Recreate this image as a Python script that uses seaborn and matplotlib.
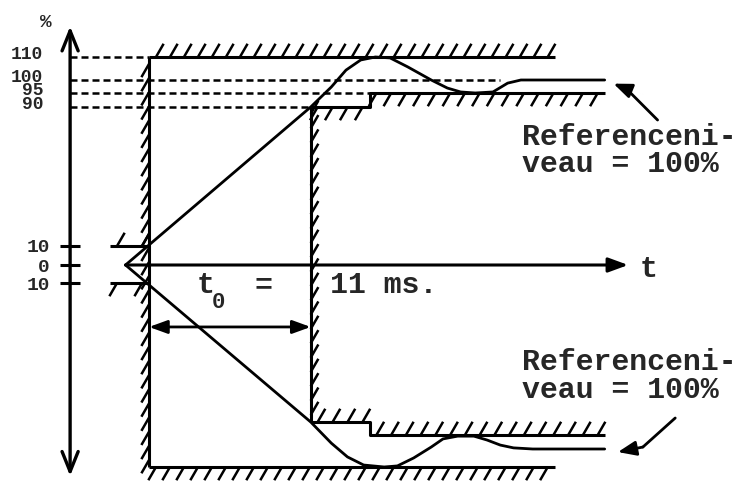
import numpy as np
import matplotlib.pyplot as plt
import matplotlib.patheffects as pe
import seaborn as sns

# levels on the % axis
tick_levels = [-10, 0, 10]
tick_labels = ["10", "0", "10"]
band_levels = [110, 100, 95, 90]
band_labels = ["110", "100", "95", "90"]
band_dash_end = [0, 23.9, 15, 11]      # ms, where each dashed guide stops

# timing in ms
t_axis = -5.37
t_start = -1.6
t_pre = -2.65
t0 = 11
t_step = 15
t_outer_end = 27.6
t_end = 31
t_arrow_end = 32.6

# tolerance envelope in %
outer = 110
inner = 95
step = 90
pre = 10

# step responses
up_t = [-1.6, 11.0, 12.4, 13.4, 14.4, 15.4, 16.4, 17.6, 19.2, 20.3, 21.2, 22.2, 23.4, 24.4, 25.3, 31.0]
up_pct = [0, 90, 97.3, 104.3, 108.7, 110, 109.6, 105.7, 100, 96.9, 95.4, 95, 95.4, 98.8, 100, 100]
low_t = [-1.6, 11.0, 12.4, 13.5, 14.6, 16.0, 16.9, 18.0, 19.2, 20.0, 21.0, 22.1, 23.0, 23.9, 24.8, 26.1, 31.0]
low_pct = [0, -90, -97.9, -104.4, -108.9, -110, -109.4, -105, -99.3, -96.4, -95.4, -95.4, -96.8, -98.6, -99.6, -100, -100]

# the sketch is not to scale: pixel row (from top) the drawing uses for each level
scale_levels = [-140, -110, -100, -95, -90, -10, 0, 10, 90, 95, 100, 110, 150]
scale_rows = [521, 467, 449, 435, 422, 283, 265, 246, 107, 93, 80, 57, -15]
neg_rows = -np.asarray(scale_rows, dtype=float)


def fwd(y):
    return np.interp(y, scale_levels, neg_rows)


def inv(v):
    return np.interp(v, neg_rows, scale_levels)


sns.set_style("white")
plt.rcParams["font.family"] = ["Liberation Mono", "DejaVu Sans"]
plt.rcParams["font.weight"] = "bold"

fig = plt.figure(figsize=(7.54, 4.82), dpi=100)
ax = fig.add_axes([0, 0, 1, 1])
ax.set_yscale("function", functions=(fwd, inv))


def hatched(ts, ys, angle):
    ax.plot(ts, ys, color="black", lw=2.2, solid_capstyle="butt",
            path_effects=[pe.withTickedStroke(spacing=10, angle=angle, length=1.1, linewidth=1.8)])


# envelope
hatched([0, t_outer_end], [outer, outer], 60)
hatched([0, t_outer_end], [-outer, -outer], -120)
hatched([0, 0], [-outer, outer], 150)
hatched([t0, t0], [-step, step], -30)
hatched([t0, t_step], [step, step], -120)
hatched([t_step, t_end], [inner, inner], -120)
hatched([t0, t_step], [-step, -step], 60)
hatched([t_step, t_end], [-inner, -inner], 60)
ax.plot([t_step, t_step], [step, inner], color="black", lw=2.2)
ax.plot([t_step, t_step], [-step, -inner], color="black", lw=2.2)
hatched([t_pre, 0], [pre, pre], 60)
hatched([t_pre, 0], [-pre, -pre], -120)

# dashed guides from the axis
ax.hlines(band_levels, t_axis, band_dash_end, colors="black", lw=1.8, linestyles=[(0, (2.8, 1.6))])

# responses
sns.lineplot(x=up_t, y=up_pct, sort=False, estimator=None, color="black", lw=2, ax=ax)
sns.lineplot(x=low_t, y=low_pct, sort=False, estimator=None, color="black", lw=2, ax=ax)

# time axis
ax.annotate("", xy=(t_arrow_end, 0), xytext=(t_start, 0),
            arrowprops=dict(arrowstyle="-|>,head_length=0.6,head_width=0.22", color="black",
                            lw=2.2, shrinkA=0, shrinkB=0, mutation_scale=20))
# % axis
ax.annotate("", xy=(t_axis, 127), xytext=(t_axis, -115),
            arrowprops=dict(arrowstyle="<->,head_length=0.72,head_width=0.29", color="black",
                            lw=2.4, shrinkA=0, shrinkB=0, mutation_scale=20))
# t0 dimension
ax.annotate("", xy=(t0, -35.3), xytext=(0, -35.3),
            arrowprops=dict(arrowstyle="<|-|>,head_length=0.55,head_width=0.2", color="black",
                            lw=2, shrinkA=0, shrinkB=0, mutation_scale=20))
# pointers to the reference level
head = dict(arrowstyle="-|>,head_length=0.55,head_width=0.22", color="black",
            lw=2, shrinkA=0, shrinkB=0, mutation_scale=20)
ax.plot([34.6, 32.5], [82.5, 96.5], color="black", lw=2)
ax.annotate("", xy=(31.6, 98.6), xytext=(32.5, 96.5), arrowprops=head)
ax.plot([35.8, 33.6], [-87.7, -99.3], color="black", lw=2)
ax.annotate("", xy=(31.9, -101.7), xytext=(33.6, -99.3), arrowprops=head)

# axis ticks and labels
for s in ax.spines.values():
    s.set_visible(False)
ax.spines["left"].set_position(("data", t_axis))
ax.xaxis.set_visible(False)
ax.set_yticks(tick_levels, labels=tick_labels)
ax.tick_params(axis="y", left=True, direction="inout", length=15, width=2.2, pad=7,
               labelsize=14, color="black")
for lvl, lab in zip(band_levels, band_labels):
    ax.annotate(lab, (-7.2, lvl), xytext=(0, 2), textcoords="offset points",
                ha="right", va="center", fontsize=13)
ax.text(-7.0, 129.4, "%", ha="center", va="center", fontsize=14)

big = dict(fontsize=21.5, va="baseline")
ax.text(25.4, 68.1, "Referenceni-", **big)
ax.text(25.4, 52.6, "veau = 100%", **big)
ax.text(25.4, -60.1, "Referenceni-", **big)
ax.text(25.4, -76.2, "veau = 100%", **big)
ax.text(33.4, -6.7, "t", **big)
ax.text(3.27, -15.5, "t", **big)
ax.text(4.29, -24.2, "0", fontsize=16, va="baseline")
ax.text(7.2, -15.8, "=", **big)
ax.text(12.3, -15.8, "11 ms.", **big)

ax.set_xlim(-10.14, 41.16)
ax.set_ylim(inv(-482), inv(0))

fig.savefig("out.png", dpi=100)
